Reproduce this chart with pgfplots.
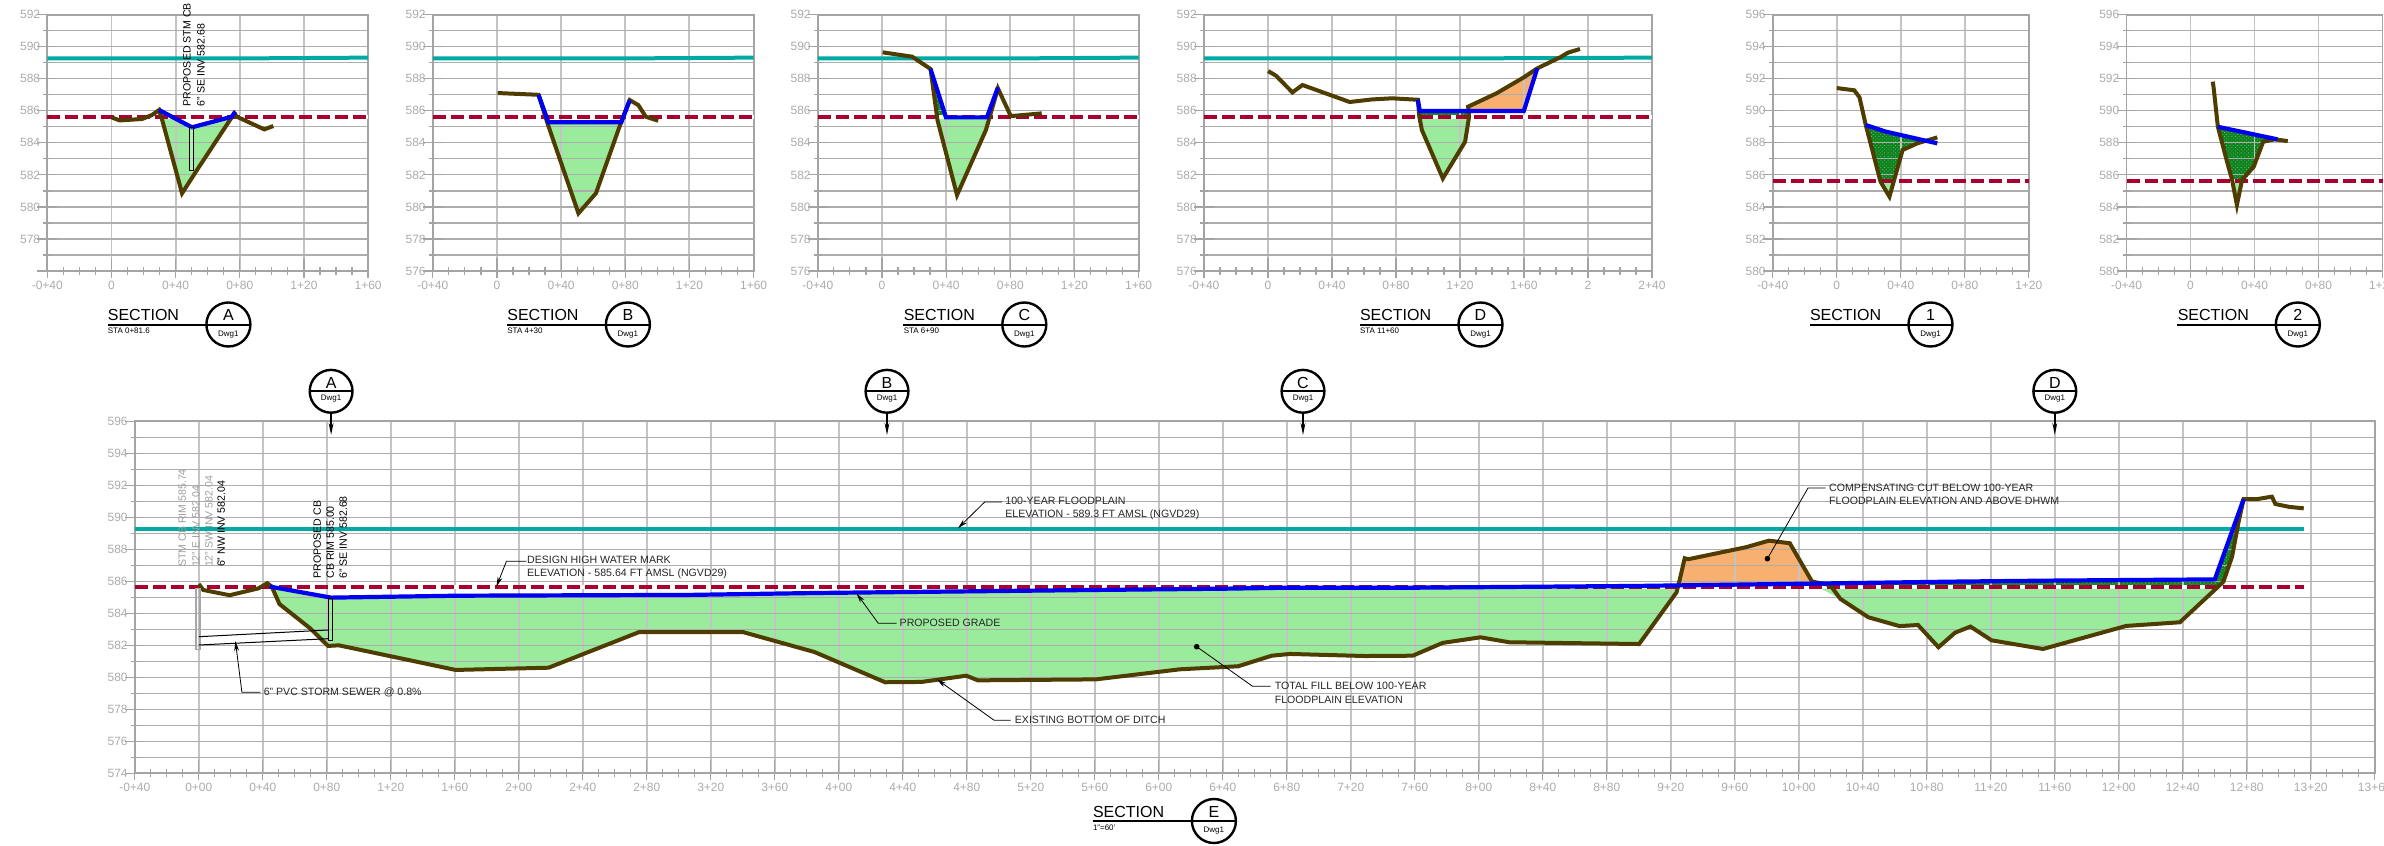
\documentclass[border=0pt]{standalone}
\usepackage{fontspec}
\setmainfont{Liberation Sans}
\usepackage{pgfplots}
\pgfplotsset{compat=1.18}
\usetikzlibrary{arrows.meta,patterns.meta}
\definecolor{teal1}{HTML}{00A9A3}
\definecolor{crim}{HTML}{A80030}
\definecolor{blu}{HTML}{0000F0}
\definecolor{brn}{HTML}{4E3C00}
\definecolor{grn}{HTML}{9AEB9C}
\definecolor{org}{HTML}{F8B070}
\definecolor{hd}{HTML}{0F7F20}
\definecolor{hl}{HTML}{58C864}
\definecolor{gh}{HTML}{ADADAD}
\definecolor{gv}{HTML}{C4C4C4}
\definecolor{axc}{HTML}{A4A4A4}
\definecolor{tlc}{HTML}{ABABAB}
\newcommand\tl{\fontsize{6}{7}\selectfont}
\newcommand\an{\fontsize{5.3}{6.5}\selectfont}
\pgfplotsset{
  sect/.style={
    set layers, clip=false, scale only axis,
    anchor=south west,
    enlargelimits=false,
    xmajorgrids, ymajorgrids, yminorgrids,
    x grid style={gv,line width=0.95pt},
    y grid style={gh,line width=0.6pt},
    minor y grid style={gh,line width=0.6pt},
    minor x tick num=3, minor y tick num=1,
    tick align=center,
    major tick length=10pt, minor tick length=4pt,
    tick style={axc,line width=0.6pt},
    major x tick style={yshift=1.75pt},
    axis line style={axc,line width=0.9pt},
    x tick label style={font=\tl,text=tlc,inner sep=0pt,anchor=center,yshift=-2.1pt,xshift=0pt},
    y tick label style={font=\tl,text=tlc,inner sep=0pt,anchor=east,xshift=1.6pt},
    xticklabel pos=lower, yticklabel pos=left,
    ytick pos=left, xtick pos=lower,
  },
  fillg/.style={fill=grn,draw=none,forget plot,on layer=axis background},
  fillo/.style={fill=org,draw=none,forget plot,on layer=axis background},
  fillh/.style={draw=none,forget plot,on layer=axis background,preaction={fill=hd},pattern={Dots[radius=0.3pt,distance=1.3pt,angle=45]},pattern color=hl},
  tealL/.style={teal1,line width=2pt,forget plot},
  redW/.style={white,line width=2pt,forget plot},
  redD/.style={crim,line width=2pt,dash pattern=on 6.5pt off 2.5pt,forget plot},
  brnL/.style={brn,line width=2pt,forget plot},
  bluL/.style={blu,line width=2.1pt,forget plot},
}
\newcommand\rt[2]{\draw[axc,line width=0.6pt] (axis cs:#1,#2) +(-2pt,0) -- +(2pt,0);}
\newcommand\sect[6]{%
  \node[anchor=west,inner sep=0pt] at (#1,#6-9.5) {\fontsize{8}{9}\selectfont SECTION};
  \draw[line width=1pt] (#1,#6) -- (#2+22,#6);
  \draw[line width=1.2pt] (#2,#6) circle [radius=11pt];
  \node[inner sep=0pt] at (#2,#6-9.5) {\fontsize{8}{9}\selectfont #3};
  \node[inner sep=0pt] at (#2,#6+10) {\fontsize{4}{5}\selectfont Dwg1};
  \node[anchor=west,inner sep=0pt] at (#1,#6+6.7) {\fontsize{4}{5}\selectfont #4};
}
\newcommand\cut[2]{%
  \draw[line width=1.2pt] (#1,391.3) circle [radius=10.7pt];
  \draw[line width=1pt] (#1-21.3,391.3) -- (#1+21.3,391.3);
  \node[inner sep=0pt] at (#1,383.3) {\fontsize{8}{9}\selectfont #2};
  \node[inner sep=0pt] at (#1,398.5) {\fontsize{4}{5}\selectfont Dwg1};
  \draw[line width=0.8pt,-{Stealth[length=6pt,width=2.4pt]}] (#1,412.7) -- (#1,435);
}
\begin{document}
\begin{tikzpicture}[x=0.5pt,y=-0.5pt]

% ---------- Section A
\begin{axis}[sect,at={(23.65pt,-135.5pt)},width=160.4pt,height=128.15pt,xmin=-40,xmax=160,ymin=576,ymax=592,
 xtick={-40,0,40,80,120,160},xticklabels={-0+40,0,0+40,0+80,1+20,1+60},
 ytick={576,578,...,592},yticklabels={,578,580,582,584,586,588,590,592}]
\addplot[fillg] coordinates {(29.7,586.05)(50.2,584.97)(75,585.63)(53.3,582.3)(44,580.85)(31.5,585.47)};
\addplot[tealL] coordinates {(-40,589.27)(80,589.27)(160,589.32)};
\addplot[redW] coordinates {(-40,585.64)(160,585.64)};
\addplot[redD] coordinates {(-40,585.64)(160,585.64)};
\addplot[brnL] coordinates {(0.1,585.59)(5.1,585.4)(19.1,585.49)(25.3,585.74)(29.7,586.05)(31.5,585.47)(44,580.85)(53.3,582.3)(76.6,585.84)(78.2,585.63)(95.3,584.84)(100.9,585.05)};
\addplot[bluL] coordinates {(29.7,586.05)(50.2,584.97)(75,585.63)(77.2,585.95)};
\rt{160}{587.5}\rt{160}{582.5}\rt{160}{577.5}
\end{axis}
\draw[black,line width=0.4pt,fill=white,fill opacity=0.25] (189.6,127.3) rectangle (193.5,170);
\node[rotate=90,anchor=west,inner sep=0pt] at (187,106.7) {\an PROPOSED STM CB};
\node[rotate=90,anchor=west,inner sep=0pt] at (201,106.7) {\an 6" SE INV 582.68};
\sect{107.5}{228.4}{A}{STA 0+81.6}{}{324.5}

% ---------- Section B
\begin{axis}[sect,at={(216.4pt,-135.5pt)},width=160.4pt,height=128.15pt,xmin=-40,xmax=160,ymin=576,ymax=592,
 xtick={-40,0,40,80,120,160},xticklabels={-0+40,0,0+40,0+80,1+20,1+60},
 ytick={576,578,...,592},yticklabels={576,578,580,582,584,586,588,590,592}]
\addplot[fillg] coordinates {(32.1,585.28)(77.5,585.28)(61.7,580.85)(50.8,579.6)};
\addplot[tealL] coordinates {(-40,589.27)(80,589.27)(160,589.32)};
\addplot[redW] coordinates {(-40,585.64)(160,585.64)};
\addplot[redD] coordinates {(-40,585.64)(160,585.64)};
\addplot[brnL] coordinates {(0.4,587.11)(25.9,587)(31.5,585.22)(50.8,579.6)(61.7,580.85)(77.5,585.32)(82.8,586.67)(88.1,586.36)(92.8,585.63)(100.5,585.38)};
\addplot[bluL] coordinates {(25.9,587)(32.1,585.28)(77.5,585.28)(82.8,586.67)};
\rt{160}{587.5}\rt{160}{582.5}\rt{160}{577.5}
\end{axis}
\sect{507}{627.9}{B}{STA 4+30}{}{324.5}

% ---------- Section C
\begin{axis}[sect,at={(408.9pt,-135.5pt)},width=160.4pt,height=128.15pt,xmin=-40,xmax=160,ymin=576,ymax=592,
 xtick={-40,0,40,80,120,160},xticklabels={-0+40,0,0+40,0+80,1+20,1+60},
 ytick={576,578,...,592},yticklabels={576,578,580,582,584,586,588,590,592}]
\addplot[fillg] coordinates {(34.6,585.64)(65.3,585.64)(64.8,584.8)(46.8,580.74)};
\addplot[fillh] coordinates {(30.3,588.61)(39.9,585.64)(34.6,585.64)};
\addplot[tealL] coordinates {(-40,589.27)(80,589.27)(160,589.32)};
\addplot[redW] coordinates {(-40,585.64)(160,585.64)};
\addplot[redD] coordinates {(-40,585.64)(160,585.64)};
\addplot[brnL] coordinates {(0.4,589.65)(18.8,589.38)(30.3,588.61)(34.6,585.42)(46.8,580.74)(64.8,584.8)(72.3,587.4)(80.3,585.67)(99.6,585.84)};
\addplot[bluL] coordinates {(30.3,588.61)(39.9,585.59)(65.4,585.59)(72.3,587.46)};
\rt{160}{587.5}\rt{160}{582.5}\rt{160}{577.5}
\end{axis}
\sect{903.4}{1024.3}{C}{STA 6+90}{}{324.5}

% ---------- Section D
\begin{axis}[sect,at={(601.95pt,-135.5pt)},width=224.05pt,height=128.15pt,xmin=-40,xmax=240,ymin=576,ymax=592,
 xtick={-40,0,40,80,120,160,200,240},xticklabels={-0+40,0,0+40,0+80,1+20,1+60,2,2+40},
 ytick={576,578,...,592},yticklabels={576,578,580,582,584,586,588,590,592}]
\addplot[fillg] coordinates {(94.7,585.64)(125.7,585.64)(123.2,584.07)(109.3,581.78)(96.2,584.8)};
\addplot[fillh] coordinates {(94.8,585.99)(125.1,585.99)(125.7,585.64)(94.7,585.64)};
\addplot[fillo] coordinates {(125.1,586.26)(142.8,587.09)(159.9,588.09)(168.3,588.65)(159.9,585.99)(125.1,585.99)};
\addplot[tealL] coordinates {(-40,589.27)(120,589.27)(240,589.32)};
\addplot[redW] coordinates {(-40,585.64)(240,585.64)};
\addplot[redD] coordinates {(-40,585.64)(240,585.64)};
\addplot[brnL] coordinates {(0.1,588.48)(5.1,588.19)(15.3,587.15)(21.6,587.61)(51.1,586.55)(65,586.71)(77.5,586.78)(93.7,586.69)(94.6,585.63)(96.2,584.8)(109.3,581.78)(123.2,584.07)(125.7,585.63)(125.1,586.26)(142.8,587.09)(159.9,588.09)(168.3,588.65)(182.6,589.34)(187.5,589.63)(195,589.86)};
\addplot[bluL] coordinates {(93.7,586.69)(94.9,585.99)(159.9,585.99)(168.3,588.65)};
\rt{240}{587.5}\rt{240}{582.5}\rt{240}{577.5}
\end{axis}
\sect{1359.6}{1480.5}{D}{STA 11+60}{}{324.5}

% ---------- Section 1
\begin{axis}[sect,at={(886.4pt,-135.5pt)},width=128pt,height=128.15pt,xmin=-40,xmax=120,ymin=580,ymax=596,
 xtick={-40,0,40,80,120},xticklabels={-0+40,0,0+40,0+80,1+20},
 ytick={580,582,...,596},yticklabels={580,582,584,586,588,590,592,594,596}]
\addplot[fillg] coordinates {(27.2,585.64)(35.7,585.64)(32.9,584.64)(27.3,585.58)};
\addplot[fillh] coordinates {(18.1,589.11)(30.6,588.7)(56,588.12)(50.3,587.97)(41.1,587.55)(35.7,585.64)(27.2,585.64)};
\addplot[redW] coordinates {(-40,585.64)(120,585.64)};
\addplot[redD] coordinates {(-40,585.64)(120,585.64)};
\addplot[brnL] coordinates {(0,591.42)(10.9,591.28)(14.2,590.84)(18.1,589.11)(27.3,585.58)(32.9,584.64)(41.1,587.55)(50.3,587.97)(62.8,588.34)};
\addplot[bluL] coordinates {(18.1,589.11)(30.6,588.7)(62.8,587.97)};
\end{axis}
\sect{1809.6}{1930.5}{1}{}{}{324.5}

% ---------- Section 2
\begin{axis}[sect,at={(1063.25pt,-135.5pt)},width=128pt,height=128.15pt,xmin=-40,xmax=120,ymin=580,ymax=596,
 xtick={-40,0,40,80,120},xticklabels={-0+40,0,0+40,0+80,1+20},
 ytick={580,582,...,596},yticklabels={580,582,584,586,588,590,592,594,596}]
\addplot[fillg] coordinates {(26,585.64)(32.6,585.64)(29,584.12)};
\addplot[fillh] coordinates {(17.1,589)(50,588.4)(45.4,588.07)(39.5,586.51)(32.6,585.64)(26,585.64)(23.1,586.72)};
\addplot[redW] coordinates {(-40,585.64)(120,585.64)};
\addplot[redD] coordinates {(-40,585.64)(120,585.64)};
\addplot[brnL] coordinates {(13.9,591.82)(14.5,591.4)(17.1,589)(23.1,586.72)(26,585.68)(29,584.12)(32.2,585.68)(39.5,586.51)(45.4,588.07)(52.6,588.22)(60.8,588.11)};
\addplot[bluL] coordinates {(17.1,589)(54.3,588.22)};
\end{axis}
\sect{2177.4}{2297.8}{2}{}{}{324.5}

% ---------- Section E (main profile)
\begin{axis}[sect,at={(67.4pt,-386.65pt)},width=1120pt,height=176pt,xmin=-40,xmax=1360,ymin=574,ymax=596,
 xtick={-40,0,40,...,1360},
 xticklabels={-0+40,0+00,0+40,0+80,1+20,1+60,2+00,2+40,2+80,3+20,3+60,4+00,4+40,4+80,5+20,5+60,6+00,6+40,6+80,7+20,7+60,8+00,8+40,8+80,9+20,9+60,10+00,10+40,10+80,11+20,11+60,12+00,12+40,12+80,13+20,13+60},
 ytick={574,576,...,596},yticklabels={574,576,578,580,582,584,586,588,590,592,594,596}]
\addplot[fillg] coordinates {(44.4,585.67)(82.7,584.98)(161.7,585.1)(307,585.15)(386,585.27)(479,585.37)(560.6,585.46)(642,585.54)(680,585.6)(758.7,585.6)(899,585.71)(924,585.73)
 (923.6,585.31)(900.2,582.08)(819,582.19)(801,582.5)(777.4,582.15)(758.7,581.35)(729,581.33)(682,581.46)(670.6,581.35)(649.6,580.69)(613.2,580.5)(560.6,579.87)(486.9,579.81)(479.7,580.1)(451.7,579.71)(429,579.69)(384.8,581.58)(340,582.83)(275.3,582.83)(218.6,580.6)(160.5,580.46)(87.5,582)(80.8,581.96)(69.6,583.06)(50.4,584.58)};
\addplot[fillo] coordinates {(925,585.75)(928.7,587.44)(930.9,587.38)(967,588.13)(981.3,588.54)(994.4,588.38)(1008.3,585.98)(1008.3,585.84)};
\addplot[fillg] coordinates {(1012,585.64)(1263,585.64)(1261,585.56)(1238.2,583.44)(1204.6,583.21)(1152.6,581.77)(1120.5,582.31)(1107.3,583.17)(1097.7,582.79)(1087.3,581.88)(1074.5,583.27)(1063,583.2)(1043.5,583.75)(1026,584.9)};
\addplot[fillh] coordinates {(1008.3,585.64)(1263,585.64)(1265.4,585.98)(1270.8,587.54)(1274.7,589.63)(1278,591.13)(1260,586.12)(1153.7,586.04)(1097,585.98)(1025.8,585.88)(1008.3,585.86)};
\addplot[tealL] coordinates {(-40,589.3)(1315.6,589.3)};
\addplot[redW] coordinates {(-40,585.64)(1315.6,585.64)};
\addplot[redD] coordinates {(-40,585.64)(1315.6,585.64)};
\addplot[brnL] coordinates {(0,585.83)(2.8,585.46)(19.3,585.13)(37.3,585.56)(42.8,585.88)(45.6,585.67)(50.4,584.58)(69.6,583.06)(80.8,581.96)(87.5,582)(160.5,580.46)(218.6,580.6)(275.3,582.83)(340,582.83)(384.8,581.58)(429,579.69)(451.7,579.71)(479.7,580.1)(486.9,579.81)(560.6,579.87)(613.2,580.5)(649.6,580.69)(670.6,581.35)(682,581.46)(729,581.33)(758.7,581.35)(777.4,582.15)(801,582.5)(819,582.19)(900.2,582.08)(923.6,585.31)(925.3,585.98)(928.7,587.44)(930.9,587.38)(967,588.13)(981.3,588.54)(994.4,588.38)(1008.3,585.98)(1019.6,585.77)(1026,584.9)(1043.5,583.75)(1063,583.2)(1074.5,583.27)(1087.3,581.88)(1097.7,582.79)(1107.3,583.17)(1120.5,582.31)(1152.6,581.77)(1204.6,583.21)(1238.2,583.44)(1261,585.56)(1265.4,585.98)(1270.8,587.54)(1274.7,589.63)(1278,591.13)(1286,591.13)(1295.7,591.29)(1297.9,590.83)(1306.6,590.65)(1315.6,590.56)};
\addplot[bluL] coordinates {(44.4,585.67)(82.7,584.98)(161.7,585.1)(307,585.15)(386,585.27)(479,585.37)(560.6,585.46)(642,585.54)(680,585.6)(758.7,585.6)(899,585.71)(989,585.83)(1025.8,585.88)(1097,585.98)(1153.7,586.04)(1260,586.12)(1278,591.13)};
\rt{1360}{595}\rt{1360}{592.5}\rt{1360}{587.5}\rt{1360}{585}\rt{1360}{582.5}\rt{1360}{577.5}\rt{1360}{575}
\end{axis}

% structures and pipes
\draw[gray!70,line width=0.8pt] (196,588.3) rectangle (200.2,649.3);
\draw[line width=0.4pt] (328,598) rectangle (332,640);
\draw[line width=0.5pt] (199,636.7) -- (328,630);
\draw[line width=0.5pt] (199,645) -- (328,638.7);
% rotated notes
\node[rotate=90,anchor=west,inner sep=0pt,text=gray!75] at (182.2,567.3) {\an STM CB RIM 585.74};
\node[rotate=90,anchor=west,inner sep=0pt,text=gray!75] at (196,567.3) {\an 12" E INV 582.04};
\node[rotate=90,anchor=west,inner sep=0pt,text=gray!75] at (209,567.3) {\an 12" SW INV 582.04};
\node[rotate=90,anchor=west,inner sep=0pt] at (221.3,567.3) {\an 6" NW INV 582.04};
\node[rotate=90,anchor=west,inner sep=0pt] at (317.3,579) {\an PROPOSED CB};
\node[rotate=90,anchor=west,inner sep=0pt] at (330.3,579) {\an CB RIM 585.00};
\node[rotate=90,anchor=west,inner sep=0pt] at (343.3,579) {\an 6" SE INV 582.68};
% leaders
\tikzset{ld/.style={line width=0.4pt,-{Stealth[length=5pt,width=2.4pt]}},tx/.style={anchor=west,inner sep=0pt,text=black!85}}
\draw[ld] (526.3,561.3) -- (506.4,561.3) -- (496.4,586.7);
\node[tx] at (526.7,560) {\an DESIGN HIGH WATER MARK};
\node[tx] at (526.7,573.3) {\an ELEVATION - 585.64 FT AMSL (NGVD29)};
\draw[ld] (260.3,692.3) -- (241.9,692.3) -- (235.4,641);
\node[tx] at (263.4,692.3) {\an 6" PVC STORM SEWER @ 0.8\%};
\draw[ld] (896.7,623.3) -- (878.3,623.3) -- (856.5,593.3);
\node[tx] at (899.3,623.3) {\an PROPOSED GRADE};
\draw[ld] (1010.7,720.3) -- (994.2,720.3) -- (936.8,679.3);
\node[tx] at (1014.5,720.3) {\an EXISTING BOTTOM OF DITCH};
\draw[ld] (1001.9,502) -- (984.7,502) -- (957.9,528.3);
\node[tx] at (1005,501.3) {\an 100-YEAR FLOODPLAIN};
\node[tx] at (1005,514.3) {\an ELEVATION - 589.3 FT AMSL (NGVD29)};
\draw[line width=0.4pt] (1196.7,646.7) -- (1252.6,686.3) -- (1270.6,686.3);
\fill (1196.7,646.7) circle [radius=1.4pt];
\node[tx] at (1274.4,686.3) {\an TOTAL FILL BELOW 100-YEAR};
\node[tx] at (1274.4,700.3) {\an FLOODPLAIN ELEVATION};
\draw[line width=0.4pt] (1767.4,558.7) -- (1808,488) -- (1825.6,488);
\fill (1767.4,558.7) circle [radius=1.4pt];
\node[tx] at (1828.8,488.3) {\an COMPENSATING CUT BELOW 100-YEAR};
\node[tx] at (1828.8,501.3) {\an FLOODPLAIN ELEVATION AND ABOVE DHWM};
% section E tag and cut marks
\sect{1092.6}{1213.9}{E}{1"=60'}{}{821}
\cut{331.1}{A}\cut{887}{B}\cut{1303}{C}\cut{2054.8}{D}
\pgfresetboundingbox
\path[use as bounding box] (0,0) rectangle (2384,846);
\end{tikzpicture}
\end{document}
